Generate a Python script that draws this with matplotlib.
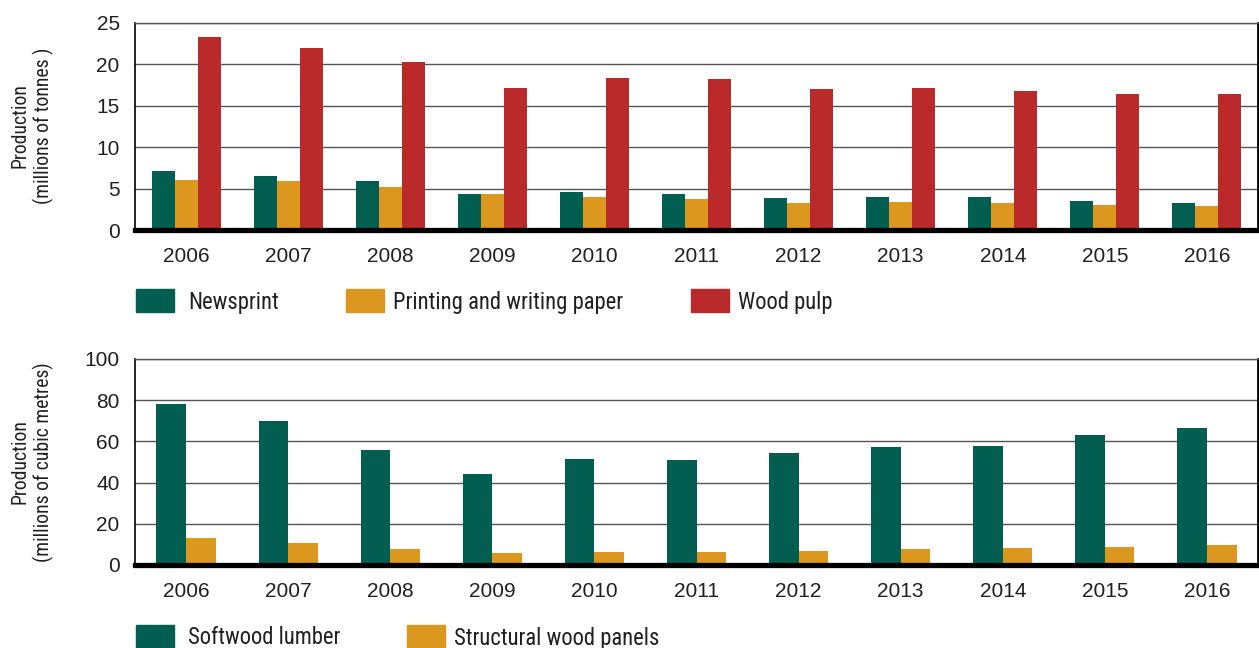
import matplotlib
matplotlib.use("Agg")
import matplotlib.pyplot as plt
from matplotlib.patches import Rectangle
from matplotlib import font_manager
import numpy as np

years = ['2006', '2007', '2008', '2009', '2010', '2011', '2012', '2013', '2014', '2015', '2016']

# millions of tonnes
newsprint = [7.1, 6.5, 5.9, 4.35, 4.6, 4.35, 3.9, 4.0, 4.0, 3.5, 3.3]
printing_writing = [6.0, 5.9, 5.2, 4.35, 4.0, 3.75, 3.3, 3.4, 3.3, 3.0, 2.9]
wood_pulp = [23.3, 22.0, 20.3, 17.15, 18.4, 18.2, 17.0, 17.1, 16.8, 16.4, 16.4]

# millions of cubic metres
softwood_lumber = [78.3, 70.0, 56.0, 44.2, 51.5, 51.0, 54.4, 57.5, 58.0, 63.3, 66.7]
structural_panels = [13.0, 10.6, 7.7, 5.8, 6.3, 6.3, 6.8, 7.7, 8.2, 8.7, 9.7]

teal = '#025e51'
orange = '#dc971e'
red = '#ba2a2b'
txt = '#231f20'

# condensed font if there is one, else shrink regular one to same width
narrow_props = None
for f in font_manager.fontManager.ttflist:
    if f.name in ('Liberation Sans Narrow', 'Roboto Condensed', 'Open Sans Condensed') \
            and f.style == 'normal':
        narrow_props = dict(family=f.name, stretch='normal')
        scale = 0.96
        break
if narrow_props is None:
    for f in font_manager.fontManager.ttflist:
        if f.name == 'DejaVu Sans' and 'Condensed' in f.fname and 'Bold' not in f.fname \
                and 'Oblique' not in f.fname:
            narrow_props = dict(fname=f.fname)
            scale = 0.86
            break
if narrow_props is None:
    narrow_props = dict(family='Liberation Sans')
    scale = 0.85

def nfont(size):
    if 'fname' in narrow_props:
        return font_manager.FontProperties(fname=narrow_props['fname'], size=size * scale)
    return font_manager.FontProperties(family=narrow_props['family'], size=size * scale)

plt.rcParams['font.family'] = ['Liberation Sans', 'DejaVu Sans']

W, H = 1259, 648
fig = plt.figure(figsize=(W / 100, H / 100), dpi=100)

def px(x0, y0, w, h):
    return [x0 / W, 1 - (y0 + h) / H, w / W, h / H]

def style(ax, ymax, step):
    ax.set_xlim(-0.5, len(years) - 0.5)
    ax.set_ylim(0, ymax)
    ax.set_yticks(np.arange(0, ymax + 1, step))
    ax.set_xticks(range(len(years)))
    ax.set_xticklabels(years)
    ax.tick_params(axis='both', length=0, labelsize=15, labelcolor=txt)
    ax.tick_params(axis='y', pad=11)
    ax.tick_params(axis='x', pad=12)
    ax.grid(axis='y', color='#555555', lw=1.0, zorder=0)
    ax.set_axisbelow(True)
    ax.spines['top'].set_color('#555555')
    ax.spines['top'].set_linewidth(1.0)
    ax.spines['left'].set_linewidth(1.2)
    ax.spines['right'].set_linewidth(2.0)
    ax.spines['bottom'].set_linewidth(3.8)
    ax.spines['bottom'].set_zorder(5)

x = np.arange(len(years))

ax1 = fig.add_axes(px(135, 23, 1123, 207))
w1 = 0.225
ax1.bar(x - w1, newsprint, w1, color=teal, zorder=2)
ax1.bar(x, printing_writing, w1, color=orange, zorder=2)
ax1.bar(x + w1, wood_pulp, w1, color=red, zorder=2)
style(ax1, 25, 5)

ax2 = fig.add_axes(px(135, 359, 1123, 206))
w2 = 0.29
ax2.bar(x - w2 / 2, softwood_lumber, w2, color=teal, zorder=2)
ax2.bar(x + w2 / 2, structural_panels, w2, color=orange, zorder=2)
style(ax2, 100, 20)

# y labels
fig.text(32 / W, 1 - 126 / H, 'Production\n(millions of tonnes )', rotation=90,
         ha='center', va='center', multialignment='center',
         fontproperties=nfont(14.8), color=txt, linespacing=1.2)
fig.text(32 / W, 1 - 462 / H, 'Production\n(millions of cubic metres)', rotation=90,
         ha='center', va='center', multialignment='center',
         fontproperties=nfont(14.8), color=txt, linespacing=1.2)

# legends
def legend_item(x0, y0, color, label, tx):
    fig.patches.append(Rectangle((x0 / W, 1 - (y0 + 23) / H), 38 / W, 23 / H,
                                 transform=fig.transFigure, color=color, figure=fig))
    fig.text(tx / W, 1 - (y0 + 13) / H, label, ha='left', va='center',
             fontproperties=nfont(17), color=txt)

legend_item(136, 289, teal, 'Newsprint', 188)
legend_item(346, 289, orange, 'Printing and writing paper', 393)
legend_item(691, 289, red, 'Wood pulp', 738)

legend_item(136, 625, teal, 'Softwood lumber', 188)
legend_item(407, 625, orange, 'Structural wood panels', 454)

fig.savefig('out.png', dpi=100)
